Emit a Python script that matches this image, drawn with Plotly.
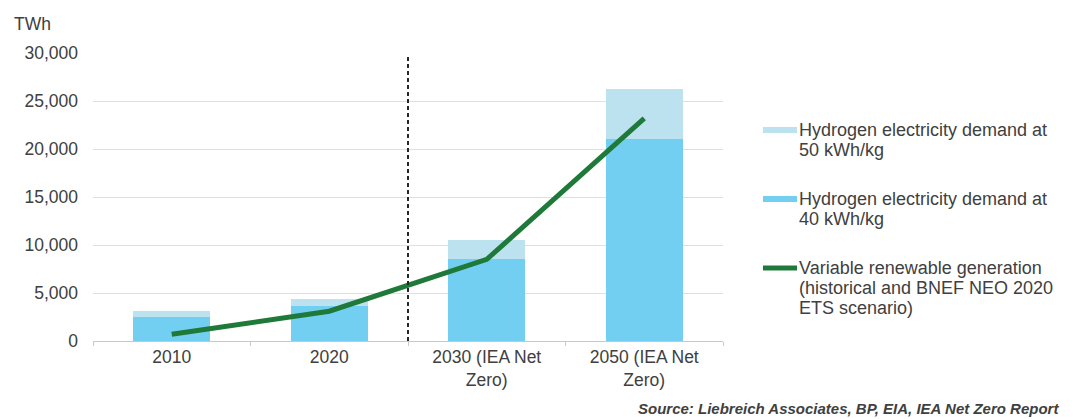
import plotly.graph_objects as go

categories = ["2010", "2020", "2030 (IEA Net<br>Zero)", "2050 (IEA Net<br>Zero)"]
demand_40 = [2500, 3600, 8500, 21000]
demand_50_extra = [600, 800, 2000, 5300]
vre_generation = [700, 3100, 8500, 23200]
y_ticks = [0, 5000, 10000, 15000, 20000, 25000, 30000]
y_ticktext = ["0", "5,000", "10,000", "15,000", "20,000", "25,000", "30,000"]

legend_labels = [
    "Hydrogen electricity demand at<br>50 kWh/kg",
    "Hydrogen electricity demand at<br>40 kWh/kg",
    "Variable renewable generation<br>(historical and BNEF NEO 2020<br>ETS scenario)",
]

C40 = "#72cff2"
C50 = "#bbe2ee"
CLINE = "#1f7a3a"
TXT = "#404040"
FONT = "Liberation Sans, Arial, sans-serif"

L, R, T, B = 93, 723, 53, 341
PW, PH = R - L, B - T

fig = go.Figure()
fig.add_trace(go.Bar(x=categories, y=demand_40, marker=dict(color=C40, line=dict(width=0)),
                     width=0.49, showlegend=False))
fig.add_trace(go.Bar(x=categories, y=demand_50_extra, marker=dict(color=C50, line=dict(width=0)),
                     width=0.49, showlegend=False))
fig.add_trace(go.Scatter(x=categories, y=vre_generation, mode="lines",
                         line=dict(color=CLINE, width=5), showlegend=False))

fig.update_layout(
    barmode="stack",
    width=1083, height=419,
    margin=dict(l=L, r=1083 - R, t=T, b=419 - B),
    paper_bgcolor="white", plot_bgcolor="white",
    font=dict(family=FONT, size=17, color=TXT),
    xaxis=dict(showgrid=False, showline=True, linecolor="#c8c8c8", linewidth=1,
               ticks="outside", tickson="boundaries", ticklen=4, tickcolor="#c8c8c8",
               tickfont=dict(size=17.5, color=TXT), fixedrange=True),
    yaxis=dict(range=[0, 30000], tickvals=y_ticks, ticktext=y_ticktext,
               showgrid=True, gridcolor="#e0e0e0", gridwidth=1, zeroline=False,
               ticks="", tickfont=dict(size=17.5, color=TXT), ticklabelstandoff=14),
)

# divider between historical and scenario
fig.add_shape(type="line", xref="x", yref="paper", x0=1.5, x1=1.5, y0=0, y1=0.99,
              line=dict(color="#262626", width=2, dash="4px,3px"))

def px_x(x):
    return (x - L) / PW

def px_y(y):
    return (B - y) / PH

fig.add_annotation(text="TWh", xref="paper", yref="paper", x=px_x(12), y=px_y(24),
                   xanchor="left", yanchor="middle", showarrow=False,
                   font=dict(size=17.5, color=TXT))

# manual legend
leg_y = [130, 199, 268]
leg_colors = [C50, C40, CLINE]
leg_w = [6, 6, 5]
for lab, yy, col, w in zip(legend_labels, leg_y, leg_colors, leg_w):
    fig.add_shape(type="line", xref="paper", yref="paper",
                  x0=px_x(763), x1=px_x(797), y0=px_y(yy), y1=px_y(yy),
                  line=dict(color=col, width=w))
    for i, line in enumerate(lab.split("<br>")):
        fig.add_annotation(text=line, xref="paper", yref="paper",
                           x=px_x(797), y=px_y(yy + 20 * i),
                           xanchor="left", yanchor="middle", align="left", showarrow=False,
                           font=dict(size=18, color=TXT))

fig.add_annotation(text="<b><i>Source: Liebreich Associates, BP, EIA, IEA Net Zero Report</i></b>",
                   xref="paper", yref="paper", x=px_x(1061), y=px_y(408),
                   xanchor="right", yanchor="middle", showarrow=False,
                   font=dict(size=15, color=TXT))

fig.write_html("out.html")
